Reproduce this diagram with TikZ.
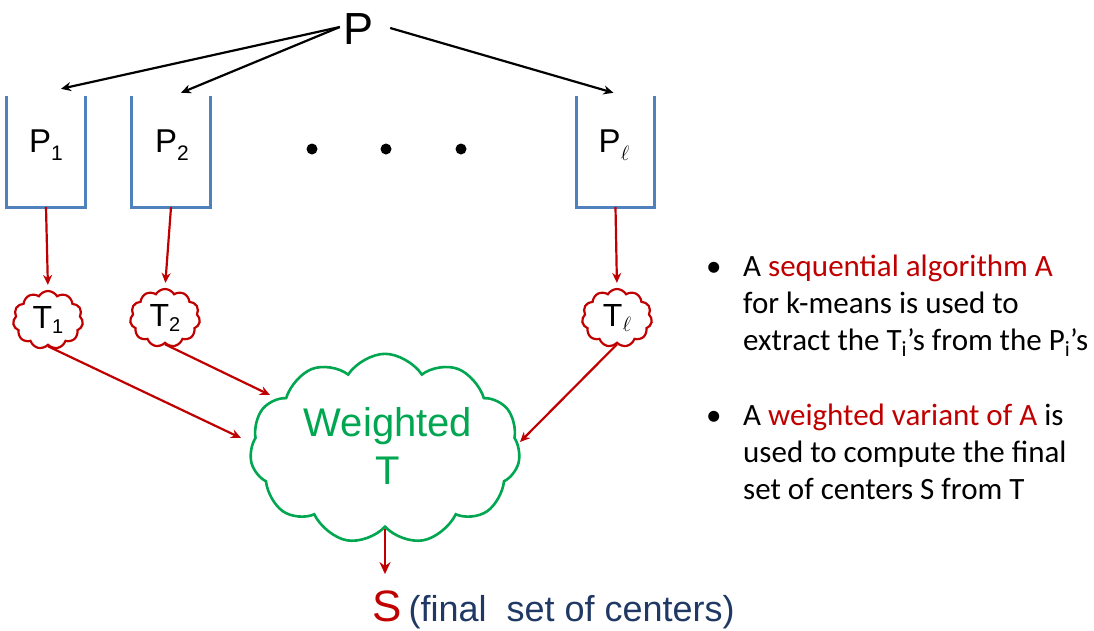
\documentclass[tikz,border=0pt]{standalone}
\usepackage{fontspec}
\setmainfont{Liberation Sans}
\newfontfamily\calibrifont{Carlito}
\usetikzlibrary{shapes.symbols,arrows.meta,calc}
\definecolor{boxblue}{RGB}{79,129,189}
\definecolor{dred}{RGB}{192,0,0}
\definecolor{cgreen}{RGB}{0,166,80}
\definecolor{navy}{RGB}{31,56,100}
\begin{document}
\begin{tikzpicture}[x=1pt,y=-1pt,
 blackarrow/.style={draw=black,line width=2.2pt,-{Stealth[length=10pt,width=9pt]}},
 redarrow/.style={draw=dred,line width=2.2pt,-{Stealth[length=10pt,width=9pt]}},
 bigredarrow/.style={draw=dred,line width=2.8pt,-{Stealth[length=12pt,width=11pt]}},
 bucket/.style={draw=none,minimum width=78pt,minimum height=111pt,inner sep=0},
 bucketline/.style={draw=boxblue,line width=3pt,line join=miter},
 smallcloud/.style={cloud,cloud puffs=11,cloud puff arc=120,draw=dred,line width=2.2pt,minimum width=70pt,minimum height=58pt,inner sep=0,font=\fontsize{32}{32}\selectfont},
 bigcloud/.style={cloud,cloud puffs=11,cloud puff arc=105,draw=cgreen,line width=2.6pt,minimum width=270pt,minimum height=167pt,inner sep=0},
 cloudtext/.style={align=center,text=cgreen,font=\fontsize{40}{48}\selectfont,inner sep=0},
 lbl/.style={font=\fontsize{33}{33}\selectfont,inner sep=0,anchor=base},
 bullettext/.style={font=\calibrifont\fontsize{31}{37}\selectfont,inner sep=0,anchor=base west},
 dot/.style={fill=black}
]
\useasboundingbox (0,0) rectangle (1094,630);

% top P
\node[font=\fontsize{45}{45}\selectfont,inner sep=0] (P) at (359,29) {P};

% buckets
\node[bucket] (b1) at (46,151.5) {};
\node[bucket] (b2) at (171,151.5) {};
\node[bucket] (bl) at (615.5,151.5) {};
\foreach \b in {b1,b2,bl}{
  \draw[bucketline] (\b.north west) -- (\b.south west) -- (\b.south east) -- (\b.north east);
}
\node[lbl] (p1) at (46,152) {P\raisebox{-8pt}{\fontsize{21}{21}\selectfont 1}};
\node[lbl] (p2) at (172,152) {P\raisebox{-8pt}{\fontsize{21}{21}\selectfont 2}};
\node[lbl] (pl) at (614,152) {P\raisebox{-8pt}{\fontsize{21}{21}\selectfont$\ell$}};

% arrow ends above buckets
\coordinate (a1) at ($(b1.north)+(15,-7)$);
\coordinate (a2) at ($(b2.north)+(10,-3)$);
\coordinate (al) at ($(bl.north)+(-2,-3)$);
\draw[blackarrow] ($(P.west)+(-4,-2)$) -- (a1);
\draw[blackarrow] ($(P.west)+(-4,-2)$) -- (a2);
\draw[blackarrow] ($(P.east)+(16,-1)$) -- (al);

% dots
\fill[dot] (312,149) circle (5.5);
\fill[dot] (386,149) circle (5.5);
\fill[dot] (461,149) circle (5.5);

% small clouds
\node[smallcloud] (t1) at (48,320) {T\raisebox{-5pt}{\fontsize{20}{20}\selectfont 1}};
\node[smallcloud] (t2) at (165,318) {T\raisebox{-5pt}{\fontsize{20}{20}\selectfont 2}};
\node[smallcloud] (tl) at (617,318) {T\raisebox{-5pt}{\fontsize{20}{20}\selectfont$\ell$}};

\draw[redarrow,shorten >=5pt] (b1.south) -- (t1.north);
\draw[redarrow,shorten >=5pt] (b2.south) -- (t2.north);
\draw[redarrow,shorten >=5pt] (bl.south) -- (tl.north);

% big cloud
\begin{scope}[shift={(385,449)},yscale=1.14]
\node[bigcloud,transform shape] (wt) at (0,0) {};
\end{scope}
\node[cloudtext] (wtt) at (388,446) {Weighted\\T};
\coordinate (e1) at (241,438);
\coordinate (e2) at (270,395);
\coordinate (el) at (520,442);
\draw[redarrow] (t1.south) -- (e1);
\draw[redarrow] (t2.south) -- (e2);
\draw[redarrow] (tl.south) -- (el);

% S
\node[anchor=base west,inner sep=0] (S) at (372,621) {\textcolor{dred}{\fontsize{44}{44}\selectfont S}\hspace{7pt}\textcolor{navy}{\fontsize{36}{36}\selectfont (final\ \ set of centers)}};
\draw[bigredarrow,shorten >=16pt] (wt.south) -- (wt.south |- S.north);

% bullets
\node[bullettext] (bu1) at (706,276) {•};
\node[bullettext] (tx1) at (743,276) {\parbox[t]{345pt}{\raggedright A \textcolor{dred}{sequential algorithm A}\\ for k-means is used to\\ extract the T\textsubscript{i}’s from the P\textsubscript{i}’s}};
\node[bullettext] (bu2) at (706,425) {•};
\node[bullettext] (tx2) at (743,425) {\parbox[t]{345pt}{\raggedright A \textcolor{dred}{weighted variant of A} is\\ used to compute the final\\ set of centers S from T}};
\end{tikzpicture}
\end{document}
